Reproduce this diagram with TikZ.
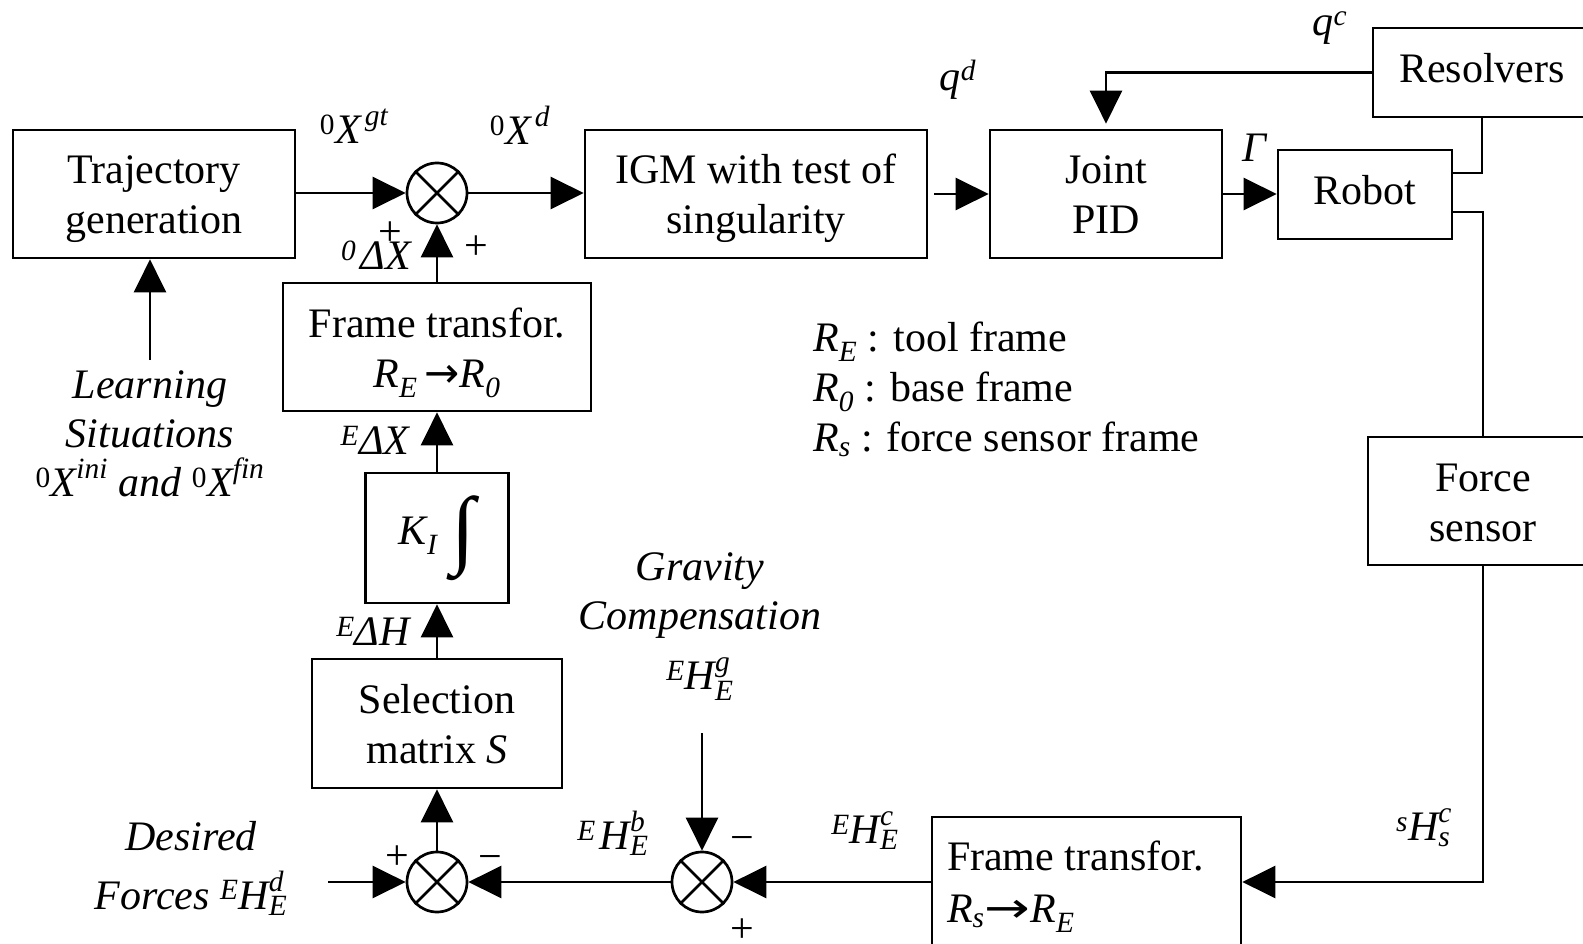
\documentclass[tikz,border=0pt]{standalone}
\usepackage{amsmath}
\usepackage{graphicx}
\usepackage{fontspec}
\setmainfont{Liberation Serif}
\newfontfamily\symf{DejaVu Sans}
\usetikzlibrary{arrows.meta}
\newcommand{\ti}[1]{\textit{#1}}
\newcommand{\tu}[1]{\textup{#1}}
\newcommand{\TT}{\rule{0pt}{42pt}}
\newcommand{\BB}{\rule[-12pt]{0pt}{12pt}}
\newcommand{\SL}{\rule[-10pt]{0pt}{38pt}}
\newcommand{\rarr}{{\symf →}}
\begin{document}
\begin{tikzpicture}[x=1pt,y=-1pt,
  every node/.style={font=\fontsize{42}{50}\selectfont},
  blk/.style={draw, line width=2.7pt, inner sep=0pt, align=center},
  sumc/.style={draw, circle, line width=2.7pt, minimum size=60pt, inner sep=0pt},
  conn/.style={line width=2.7pt},
  arr/.style={line width=2.7pt, -{Triangle[length=33pt,width=32pt]}},
  lbl/.style={inner sep=0pt},
  itl/.style={inner sep=0pt, align=center, font=\fontsize{42}{49}\selectfont\itshape},
]
\useasboundingbox (0,0) rectangle (1583,944);
\clip (0,0) rectangle (1583,944);

% blocks
\node[blk, minimum width=282pt, minimum height=128pt] (traj) at (154,194) {\TT Trajectory\\generation\BB};
\node[blk, minimum width=342pt, minimum height=128pt] (igm) at (756,194) {\TT IGM with test of\\singularity\BB};
\node[blk, minimum width=232pt, minimum height=128pt] (pid) at (1106,194) {\TT Joint\\PID\BB};
\node[blk, minimum width=174pt, minimum height=89pt] (robot) at (1365,194.5) {\SL Robot};
\node[blk, minimum width=218pt, minimum height=89pt] (res) at (1482,72.5) {\SL Resolvers};
\node[blk, minimum width=230pt, minimum height=128pt] (fs) at (1483,501) {\TT Force\\sensor\BB};
\node[blk, minimum width=309pt, minimum height=130pt, align=flush left, text width=279pt] (frs) at (1086.5,882) {\rule{0pt}{40pt}Frame transfor.\\[2pt]$\ti{R}_{\ti{s}}$\scalebox{1.3}[1]{\rarr}$\ti{R}_{\ti{E}}$\BB};
\node[blk, minimum width=308pt, minimum height=128pt] (fre) at (437,347) {\TT Frame transfor.\\$\ti{R}_{\ti{E}}$\,\rarr$\ti{R}_{\ti{0}}$\BB};
\node[blk, minimum width=143pt, minimum height=130pt] (ki) at (437,538) {$\ti{K}_{\ti{I}}$\,\,$\vcenter{\hbox{\resizebox*{!}{85pt}{∫}}}$};
\node[blk, minimum width=250pt, minimum height=129pt] (sel) at (437,723.5) {\TT Selection\\matrix \ti{S}\BB};

% summing junctions
\node[sumc] (s1) at (437,193) {};
\node[sumc] (s2) at (437,882) {};
\node[sumc] (s3) at (702,882) {};
\foreach \s in {s1,s2,s3} {
  \draw[conn] (\s.north west) -- (\s.south east) (\s.north east) -- (\s.south west);
}

% connectors
\draw[arr] (s1.west -| traj.east) -- (s1.west);
\draw[arr] (s1.east) -- (s1.east -| igm.west);
\draw[arr, shorten <=6pt] (igm.east) -- (pid.west);
\draw[arr] (pid.east) -- (pid.east -| robot.west);
\draw[arr, shorten >=5pt] (res.west) -- (res.west -| pid.north) -- (pid.north);
\draw[conn] ([yshift=21.5pt]robot.east) -| (res.south);
\draw[conn] ([yshift=-17.5pt]robot.east) -| (fs.north);
\draw[arr] (fs.south) |- (frs.east);
\draw[arr] (frs.west) -- (s3.east);
\draw[arr] (s3.west) -- (s2.east);
\coordinate (dstart) at (328,882);
\draw[arr] (dstart) -- (s2.west);
\draw[arr] (s2.north) -- (sel.south);
\draw[arr] (sel.north) -- (ki.south);
\draw[arr] (ki.north) -- (fre.south);
\draw[arr] (fre.north) -- (s1.south);
\coordinate (gstart) at (702,733);
\draw[arr] (gstart) -- (s3.north);
\coordinate (lstart) at (150,360);
\draw[arr] (lstart) -- (lstart |- traj.south);

% labels
\node[lbl] (lgt) at (354,126) {${}^{\tu{0}}\ti{X}^{\,\ti{gt}}$};
\node[lbl] (ld) at (520,125) {${}^{\tu{0}}\ti{X}^{\,\ti{d}}$};
\node[lbl] (lqd) at (958,80) {$\ti{q}^{\ti{d}}$};
\node[lbl] (lqc) at (1330,28) {$\ti{q}^{\ti{c}}$};
\node[lbl] (lgam) at (1255,148) {\ti{Γ}};
\node[lbl] (lp1) at (390,234) {+};
\node[lbl] (ldx0) at (376,255) {${}^{\ti{0}}\,\ti{ΔX}$};
\node[lbl] (lp2) at (476,248) {+};
\node[lbl] (ldxe) at (375,440) {${}^{\ti{E}}\ti{ΔX}$};
\node[lbl] (ldh) at (373,631) {${}^{\ti{E}}\ti{ΔH}$};
\node[itl] (llearn) at (150,434) {Learning\\Situations\\${}^{\tu{0}}\ti{X}^{\ti{ini}}$ and ${}^{\tu{0}}\ti{X}^{\ti{fin}}$};
\node[lbl, align=left, anchor=west] (legend) at (813,389) {$\ti{R}_{\ti{E}}$ : tool frame\\$\ti{R}_{\ti{0}}$ : base frame\\$\ti{R}_{\ti{s}}$ : force sensor frame};
\node[itl] (lgrav) at (700,596) {Gravity\\Compensation};
\node[lbl] (lhg) at (700,679) {${}^{\ti{E}}\ti{H}^{\ti{g}}_{\ti{E}}$};
\node[lbl] (lhb) at (613,833) {${}^{\ti{E}}\,\ti{H}^{\ti{b}}_{\ti{E}}$};
\node[lbl] (lm3) at (742,844) {−};
\node[lbl] (lp3) at (742,931) {+};
\node[lbl] (lp4) at (397,858) {+};
\node[lbl] (lm4) at (490,863) {−};
\node[lbl] (lhc) at (865,831) {${}^{\ti{E}}\ti{H}^{\ti{c}}_{\ti{E}}$};
\node[lbl] (lhs) at (1424,828) {${}^{\ti{s}}\ti{H}^{\ti{c}}_{\ti{s}}$};
\node[itl] (ldes) at (191,868) {Desired\\[10pt]Forces ${}^{\ti{E}}\ti{H}^{\ti{d}}_{\ti{E}}$};
\end{tikzpicture}
\end{document}
